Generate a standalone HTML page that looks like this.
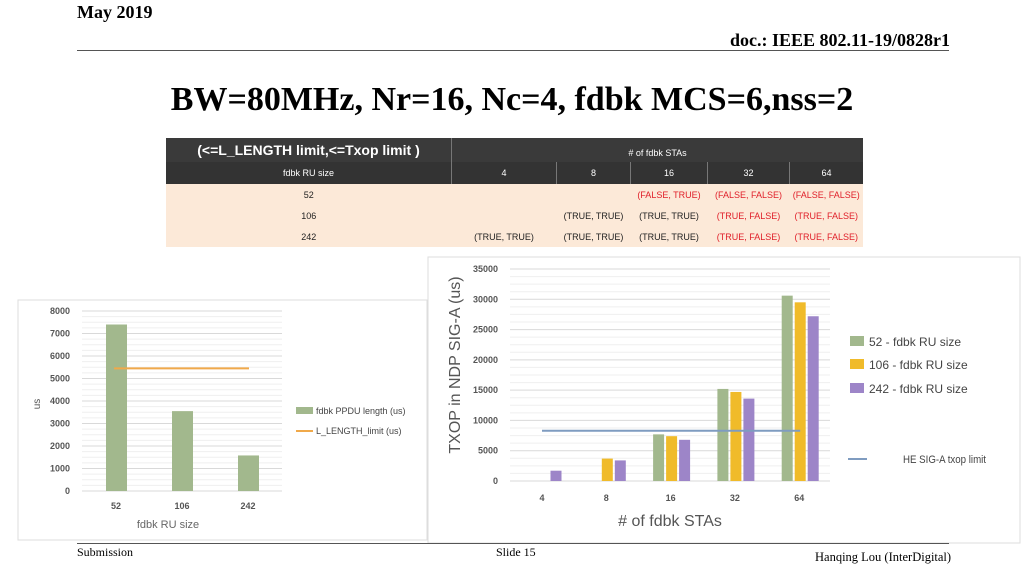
<!DOCTYPE html>
<html><head><meta charset="utf-8">
<style>
body{margin:0;width:1024px;height:576px;background:#fff;position:relative;overflow:hidden;font-family:"Liberation Sans",sans-serif}
.abs{position:absolute}
.serif{font-family:"Liberation Serif",serif}
table{border-collapse:collapse}
td{font-size:9px;text-align:center;padding:0;color:#222}
.red{color:#e0202a}
</style></head><body>
<div class="abs serif" style="left:77px;top:2px;font-size:18px;font-weight:bold">May 2019</div>
<div class="abs serif" style="right:74px;top:30px;font-size:18px;font-weight:bold;white-space:nowrap">doc.: IEEE 802.11-19/0828r1</div>
<div class="abs" style="left:77px;top:50px;width:872px;height:1px;background:#555"></div>
<div class="abs serif" style="left:0;width:1024px;top:81px;text-align:center;font-size:34px;font-weight:bold">BW=80MHz, Nr=16, Nc=4, fdbk MCS=6,nss=2</div>

<table class="abs" style="left:166px;top:138px;width:697px">
<tr style="background:#3a3a3a;height:24px;color:#fff">
<td style="color:#fff;font-size:14px;font-weight:bold;width:285px;border-right:1px solid #777">(&lt;=L_LENGTH limit,&lt;=Txop limit )</td>
<td colspan="5" style="color:#fff;padding-top:6px">#  of fdbk STAs</td></tr>
<tr style="background:#333;height:22px">
<td style="color:#fff;border-right:1px solid #777">fdbk RU size</td><td style="color:#fff;width:104px;border-right:1px solid #777">4</td><td style="color:#fff;width:73px;border-right:1px solid #777">8</td><td style="color:#fff;width:76px;border-right:1px solid #777">16</td><td style="color:#fff;width:81px;border-right:1px solid #777">32</td><td style="color:#fff">64</td></tr>
<tr style="background:#fce9d8;height:21px"><td>52</td><td></td><td></td><td class="red">(FALSE, TRUE)</td><td class="red">(FALSE, FALSE)</td><td class="red">(FALSE, FALSE)</td></tr>
<tr style="background:#fce9d8;height:21px"><td>106</td><td></td><td>(TRUE, TRUE)</td><td>(TRUE, TRUE)</td><td class="red">(TRUE, FALSE)</td><td class="red">(TRUE, FALSE)</td></tr>
<tr style="background:#fce9d8;height:21px"><td>242</td><td>(TRUE, TRUE)</td><td>(TRUE, TRUE)</td><td>(TRUE, TRUE)</td><td class="red">(TRUE, FALSE)</td><td class="red">(TRUE, FALSE)</td></tr>
</table>

<svg class="abs" style="left:0;top:0" width="1024" height="576">
<rect x="18" y="300" width="409" height="240" fill="#fff" stroke="#ddd"/>
<rect x="428" y="257" width="592" height="286" fill="#fff" stroke="#ddd"/>
<g id="L"></g><g id="R"></g>
<text x="40" y="404" font-size="10" fill="#555" transform="rotate(-90 40 404)" text-anchor="middle">us</text>
<text x="168" y="528" font-size="11" fill="#666" text-anchor="middle">fdbk RU size</text>
<rect x="296" y="407" width="17" height="7" fill="#a2b88d"/>
<text x="316" y="414" font-size="9" fill="#444">fdbk PPDU length (us)</text>
<rect x="296" y="430" width="17" height="2" fill="#f0a94a"/>
<text x="316" y="434" font-size="9" fill="#444">L_LENGTH_limit (us)</text>
<text x="460" y="365" font-size="16" fill="#555" transform="rotate(-90 460 365)" text-anchor="middle">TXOP in NDP SIG-A (us)</text>
<text x="670" y="526" font-size="16" fill="#555" text-anchor="middle"># of fdbk STAs</text>
<rect x="850" y="336" width="14" height="10" fill="#a2b88d"/>
<text x="869" y="346" font-size="12" fill="#444">52 - fdbk RU size</text>
<rect x="850" y="359" width="14" height="10" fill="#f0bb2a"/>
<text x="869" y="369" font-size="12" fill="#444">106 - fdbk RU size</text>
<rect x="850" y="383" width="14" height="10" fill="#9d85c8"/>
<text x="869" y="393" font-size="12" fill="#444">242 - fdbk RU size</text>
<rect x="848" y="458" width="19" height="2" fill="#7f9cc0"/>
<text x="903" y="463" font-size="11" fill="#444" textLength="83" lengthAdjust="spacingAndGlyphs">HE SIG-A txop limit</text>
</svg>

<div class="abs" style="left:77px;top:543px;width:872px;height:1px;background:#555"></div>
<div class="abs serif" style="left:77px;top:545px;font-size:12px">Submission</div>
<div class="abs serif" style="left:496px;top:545px;font-size:12px">Slide 15</div>
<div class="abs serif" style="left:815px;top:550px;font-size:12.5px">Hanqing Lou (InterDigital)</div>

<script>
const ns="http://www.w3.org/2000/svg";
const leftCats=["52","106","242"];
const ppduValues=[7400,3550,1580];
const lLengthLimit=5450;
const leftTicks=[0,1000,2000,3000,4000,5000,6000,7000,8000];
const rightCats=["4","8","16","32","64"];
const ru52=[null,null,7700,15200,30600];
const ru106=[null,3700,7400,14700,29500];
const ru242=[1700,3400,6800,13600,27200];
const txopLimit=8300;
const rightTicks=[0,5000,10000,15000,20000,25000,30000,35000];

function mk(tag,attrs,parent,txt){const e=document.createElementNS(ns,tag);for(const k in attrs)e.setAttribute(k,attrs[k]);if(txt!==undefined)e.textContent=txt;parent.appendChild(e);return e;}

// Left chart
const L=document.getElementById('L');
const ly=v=>491-v*(180/8000);
const lx=i=>116+i*66;
for(let v=0;v<=8000;v+=250){mk('line',{x1:82,x2:282,y1:ly(v),y2:ly(v),stroke:v%1000===0?'#d9d9d9':'#efefef','stroke-width':1},L);}
leftTicks.forEach(t=>{const e=mk('text',{x:70,y:ly(t)+3,'font-size':9,'font-weight':'bold',fill:'#555','text-anchor':'end'},L,t);

});
leftCats.forEach((c,i)=>{const r=mk('rect',{x:lx(i)-10,y:ly(ppduValues[i]),width:21,height:ly(0)-ly(ppduValues[i]),fill:'#a2b88d'},L);


const t=mk('text',{x:lx(i),y:509,'font-size':9,'font-weight':'bold',fill:'#555','text-anchor':'middle'},L,c);

});
const ll=mk('line',{x1:lx(0)-2,x2:lx(2)+1,y1:ly(lLengthLimit),y2:ly(lLengthLimit),stroke:'#f0a94a','stroke-width':2},L);



// Right chart
const R=document.getElementById('R');
const ry=v=>481-v*(212/35000);
const rx=i=>542+i*64.3;
for(let v=0;v<=35000;v+=1250){mk('line',{x1:510,x2:830,y1:ry(v),y2:ry(v),stroke:v%5000===0?'#d9d9d9':'#efefef','stroke-width':1},R);}
rightTicks.forEach(t=>{const e=mk('text',{x:498,y:ry(t)+3,'font-size':9,'font-weight':'bold',fill:'#555','text-anchor':'end'},R,t);

});
const series=[[ru52,'#a2b88d','52',-12],[ru106,'#f0bb2a','106',1],[ru242,'#9d85c8','242',14]];
rightCats.forEach((c,i)=>{
 series.forEach(([arr,col,nm,off])=>{if(arr[i]==null)return;
  const r=mk('rect',{x:rx(i)+off-5.5,y:ry(arr[i]),width:11,height:ry(0)-ry(arr[i]),fill:col},R);
  
  });
 const t=mk('text',{x:rx(i),y:501,'font-size':9,'font-weight':'bold',fill:'#555','text-anchor':'middle'},R,c);
 
 
});
const tl=mk('line',{x1:rx(0),x2:rx(4)+1,y1:ry(txopLimit),y2:ry(txopLimit),stroke:'#7f9cc0','stroke-width':2},R);


</script>
</body></html>
